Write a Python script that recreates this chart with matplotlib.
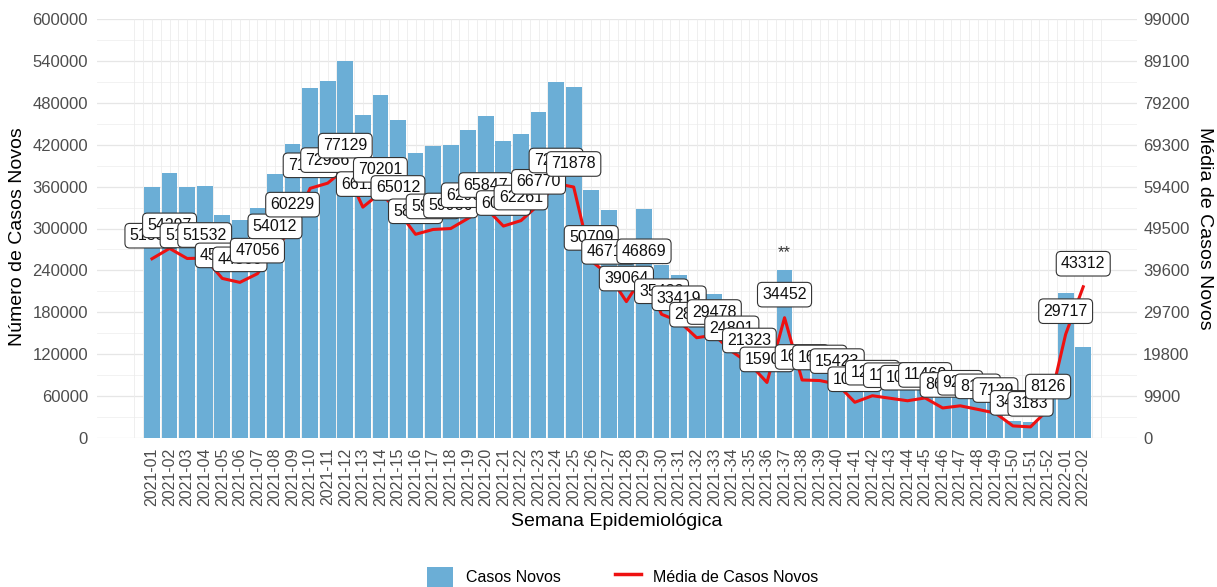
#!/usr/bin/env python3

import numpy as np
import matplotlib
matplotlib.use("Agg")
import matplotlib.pyplot as plt
from matplotlib.patches import Patch
from matplotlib.lines import Line2D

plt.rcParams["font.family"] = ["Liberation Sans", "DejaVu Sans"]

# epidemiological weeks
weeks = [f"2021-{w:02d}" for w in range(1, 53)] + ["2022-01", "2022-02"]

# weekly new cases (bars)
casos = [
    359400, 380100, 359900, 360700, 319900, 312000, 329400, 378100, 421600, 500500,
    510900, 539900, 462800, 491400, 455100, 408400, 418100, 419900, 440600, 460900,
    424900, 435800, 467400, 510100, 503100, 355000, 327000, 273400, 328100, 248000,
    233900, 201000, 206300, 173600, 149300, 111300, 241200, 116300, 115200, 108000,
    71600, 84700, 79700, 74700, 80300, 60200, 64500, 57400, 49900, 24200,
    22300, 56900, 208000, 129900,
]

# mean of new cases (line + labels)
media = [
    51338, 54297, 51412, 51532, 45702, 44566, 47056, 54012, 60229, 71502,
    72986, 77129, 66117, 70201, 65012, 58336, 59729, 59986, 62937, 65847,
    60694, 62261, 66770, 72871, 71878, 50709, 46714, 39064, 46869, 35432,
    33419, 28716, 29478, 24801, 21323, 15903, 34452, 16612, 16458, 15423,
    10227, 12106, 11387, 10668, 11469, 8602, 9216, 8194, 7129, 3458,
    3183, 8126, 29717, 43312,
]

# the line is drawn on the primary scale (mean x 5)
line_scale = 5
star_week = "2021-37"

bar_color = "#6baed6"
line_color = "#ee1111"
tick_color = "#4d4d4d"

fig = plt.figure(figsize=(12.17, 5.87), dpi=100)
ax = fig.add_axes([97 / 1217, 1 - 438 / 587, (1137 - 97) / 1217, (438 - 19) / 587])

x = np.arange(len(weeks))
line_vals = np.array(media) * line_scale

# grid
for v in np.arange(0, 600001, 60000):
    ax.axhline(v, color="#e6e6e6", lw=0.9, zorder=0)
for v in np.arange(30000, 600000, 60000):
    ax.axhline(v, color="#f0f0f0", lw=0.6, zorder=0)
ax.vlines(np.arange(-1, len(weeks) + 0.5, 0.5), 0, 600000, color="#ececec", lw=0.6, zorder=0)

ax.bar(x, casos, width=0.9, color=bar_color, zorder=2)
ax.plot(x, line_vals, color=line_color, lw=2.2, zorder=3)

for xi, yi, m in zip(x, line_vals, media):
    ax.text(xi, yi + 33000, str(m), ha="center", va="center", fontsize=11.5, color="#111111",
            zorder=4,
            bbox=dict(boxstyle="round,pad=0.3,rounding_size=0.3", fc="white", ec="#333333", lw=0.8))

si = weeks.index(star_week)
ax.text(si, casos[si] + 24000, "**", ha="center", va="center", fontsize=12, color="#333333", zorder=4)

ax.set_xlim(-3.13, 56.06)
ax.set_ylim(0, 600000)
ax.set_yticks(np.arange(0, 600001, 60000))
ax.set_yticklabels([str(v) for v in np.arange(0, 600001, 60000)])
ax.set_xticks(x)
ax.set_xticklabels(weeks, rotation=90)
ax.tick_params(axis="y", length=0, pad=6.5, labelsize=12, labelcolor=tick_color)
ax.tick_params(axis="x", length=0, pad=7, labelsize=11.5, labelcolor=tick_color)
for s in ax.spines.values():
    s.set_visible(False)

ax2 = ax.twinx()
ax2.set_ylim(0, 99000)
ax2.set_yticks(np.arange(0, 99001, 9900))
ax2.set_yticklabels([str(v) for v in np.arange(0, 99001, 9900)])
ax2.tick_params(axis="y", length=0, pad=4.5, labelsize=12, labelcolor=tick_color)
for s in ax2.spines.values():
    s.set_visible(False)

fig.text(18 / 1217, 1 - 237 / 587, "Número de Casos Novos", rotation=90, ha="center", va="center", fontsize=14)
fig.text(1205 / 1217, 1 - 228 / 587, "Média de Casos Novos", rotation=270, ha="center", va="center", fontsize=14)
fig.text(617 / 1217, 1 - 521 / 587, "Semana Epidemiológica", ha="center", va="center", fontsize=14)

handles = [Patch(facecolor=bar_color, edgecolor="none"), Line2D([], [], color=line_color, lw=2.5)]
fig.legend(handles, ["Casos Novos", "Média de Casos Novos"], loc="center", bbox_to_anchor=(623 / 1217, 1 - 577 / 587),
           ncol=2, frameon=False, fontsize=11.5, handlelength=1.6, handleheight=1.6, columnspacing=3.4,
           handletextpad=0.8)

fig.savefig("out.png", dpi=100)
